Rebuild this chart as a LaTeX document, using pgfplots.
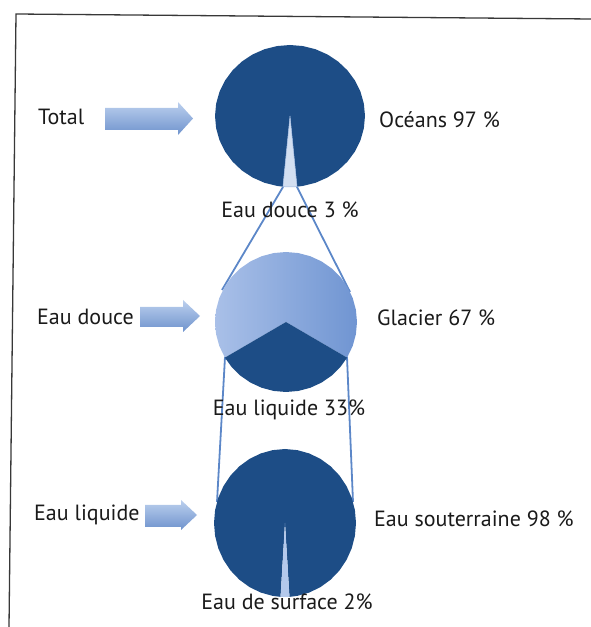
\documentclass[border=0pt]{standalone}
\usepackage{pgfplots}
\pgfplotsset{compat=1.18}
\usepgfplotslibrary{polar}
\usepackage{fontspec}
\setmainfont{PT Sans}
\definecolor{navy}{HTML}{1D4D86}
\definecolor{lightslice}{HTML}{D3DFF1}
\definecolor{lightslice2}{HTML}{B4C9EC}
\definecolor{glacL}{HTML}{A9C0E8}
\definecolor{glacR}{HTML}{7095D2}
\definecolor{conn}{HTML}{5C87C8}
\definecolor{arrT}{HTML}{BCD0EE}
\definecolor{arrB}{HTML}{6F93CD}
\definecolor{txt}{HTML}{1A1A1A}
\pgfplotsset{pie/.style={hide axis, scale only axis, anchor=center,
  xmin=-1, xmax=1, ymin=-1, ymax=1, clip=false}}
\begin{document}
\begin{tikzpicture}[x=1pt,y=1pt]
\path[use as bounding box] (0,0) rectangle (591,627);
% frame
\draw[line width=1.3pt, color=black!78] (9,0) -- (16,613) -- (591,608);
% connector lines
\draw[conn, line width=1.8pt] (283,440) -- (222,337);
\draw[conn, line width=1.8pt] (297,440) -- (350,335);
\draw[conn, line width=1.8pt] (225,270) -- (217,125);
\draw[conn, line width=1.8pt] (347,270) -- (353,125);
% arrows
\shade[top color=arrT, bottom color=arrB] (105,497) -- (178,497) -- (178,492) -- (193,508.5) -- (178,525) -- (178,519) -- (105,519) -- cycle;
\shade[top color=arrT, bottom color=arrB] (140,300) -- (183,300) -- (183,295) -- (200,311) -- (183,327) -- (183,320) -- (140,320) -- cycle;
\shade[top color=arrT, bottom color=arrB] (145,100) -- (181,100) -- (181,97) -- (197,112) -- (181,127) -- (181,122) -- (145,122) -- cycle;
% Top pie: Oceans 97 %, Eau douce 3 %
\begin{axis}[pie, at={(290pt,511pt)}, width=150pt, height=142pt]
\addplot[data cs=polar, fill=navy, draw=none] coordinates {(0,0) (275.4,1) (280,1) (290,1) (300,1) (310,1) (320,1) (330,1) (340,1) (350,1) (360,1) (370,1) (380,1) (390,1) (400,1) (410,1) (420,1) (430,1) (440,1) (450,1) (460,1) (470,1) (480,1) (490,1) (500,1) (510,1) (520,1) (530,1) (540,1) (550,1) (560,1) (570,1) (580,1) (590,1) (600,1) (610,1) (620,1) (624.6,1)};
\addplot[data cs=polar, fill=lightslice, draw=conn!60, line width=0.5pt] coordinates {(0,0) (264.6,1) (270,1) (275.4,1)} -- cycle;
\end{axis}
% Middle pie: Glacier 67 %, Eau liquide 33 %
\begin{axis}[pie, at={(286pt,305pt)}, width=142pt, height=140pt]
\addplot[data cs=polar, left color=glacL, right color=glacR, draw=none] coordinates {(0,0) (-30.6,1) (-20,1) (-10,1) (0,1) (10,1) (20,1) (30,1) (40,1) (50,1) (60,1) (70,1) (80,1) (90,1) (100,1) (110,1) (120,1) (130,1) (140,1) (150,1) (160,1) (170,1) (180,1) (190,1) (200,1) (210.6,1)} -- cycle;
\addplot[data cs=polar, fill=navy, draw=none] coordinates {(0,0) (210.6,1) (220,1) (230,1) (240,1) (250,1) (260,1) (270,1) (280,1) (290,1) (300,1) (310,1) (320,1) (329.4,1)} -- cycle;
\end{axis}
% Bottom pie: Eau souterraine 98 %, Eau de surface 2 %
\begin{axis}[pie, at={(285pt,104pt)}, width=142pt, height=148pt]
\addplot[data cs=polar, fill=navy, draw=none] coordinates {(0,0) (273.6,1) (280,1) (290,1) (300,1) (310,1) (320,1) (330,1) (340,1) (350,1) (360,1) (370,1) (380,1) (390,1) (400,1) (410,1) (420,1) (430,1) (440,1) (450,1) (460,1) (470,1) (480,1) (490,1) (500,1) (510,1) (520,1) (530,1) (540,1) (550,1) (560,1) (570,1) (580,1) (590,1) (600,1) (610,1) (620,1) (626.4,1)} -- cycle;
\addplot[data cs=polar, fill=lightslice2, draw=none] coordinates {(0,0) (266.4,1) (270,1) (273.6,1)} -- cycle;
\end{axis}
% labels
\begin{scope}[every node/.style={inner sep=0pt, text=txt, font=\fontsize{22}{26}\selectfont}]
\node[anchor=base west] at (38,502.5) {Total};
\node[anchor=base west] at (379,499.5) {Océans 97 \%};
\node[anchor=base] at (290,409.5) {Eau douce 3 \%};
\node[anchor=base west] at (37,302.5) {Eau douce};
\node[anchor=base west] at (377,301.5) {Glacier 67 \%};
\node[anchor=base] at (289,211.5) {Eau liquide 33\%};
\node[anchor=base west] at (34,106.5) {Eau liquide};
\node[anchor=base west] at (374,100.5) {Eau souterraine 98 \%};
\node[anchor=base] at (287,17.5) {Eau de surface 2\%};
\end{scope}
\end{tikzpicture}
\end{document}
